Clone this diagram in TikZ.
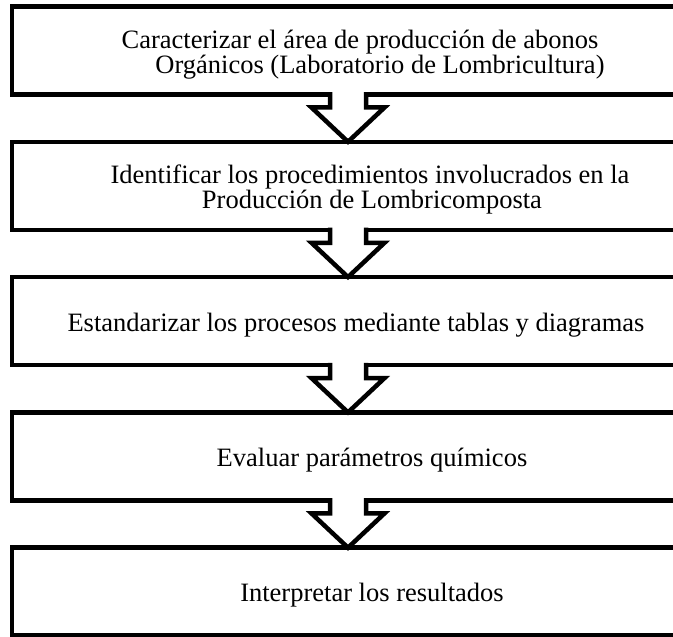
\documentclass[tikz,border=0pt]{standalone}
\usepackage{fontspec}
\setmainfont{Liberation Serif}
\usepackage{tikz}
\usetikzlibrary{calc,positioning}

\begin{document}
\begin{tikzpicture}[
  x=1pt,
  y=1pt,
  every node/.style={align=center},
  stagebox/.style={draw, line width=4.5pt, outer sep=0pt, minimum width=720pt, minimum height=88pt,
    font=\fontsize{26.5}{25.5}\selectfont, text height=26pt},
  twoline/.style={text height=52pt},
  blockarr/.style={draw, fill=white, line width=4.5pt, line join=miter}
]
\clip (0,0) rectangle (673,637);

\node[stagebox, twoline] (carac) at (372,586.5)
  {Caracterizar el área de producción de abonos\hspace*{24pt}\null\\
   \hspace*{16pt}Orgánicos (Laboratorio de Lombricultura)};
\node[stagebox, twoline] (ident) at (372,451.2)
  {Identificar los procedimientos involucrados en la\hspace*{4pt}\null\\
   Producción de Lombricomposta};
\node[stagebox] (estand) at (372,315.9)
  {Estandarizar los procesos mediante tablas y diagramas\hspace*{32pt}\null};
\node[stagebox] (evalua) at (372,180.6)
  {Evaluar parámetros químicos};
\node[stagebox] (interp) at (372,45.3)
  {Interpretar los resultados};

% hollow arrows between the stages
\foreach \a/\b in {carac/ident,ident/estand,estand/evalua,evalua/interp}{
  \coordinate (top) at ([xshift=-24pt]\a.south);
  \coordinate (tip) at ([xshift=-24pt]\b.north);
  \draw[blockarr] ($(top)+(-18,2.25)$) -- ($(top)+(-18,-13)$) -- ($(top)+(-36.5,-13)$)
    -- (tip) -- ($(top)+(36.5,-13)$) -- ($(top)+(18,-13)$) -- ($(top)+(18,2.25)$);
}
\end{tikzpicture}
\end{document}
